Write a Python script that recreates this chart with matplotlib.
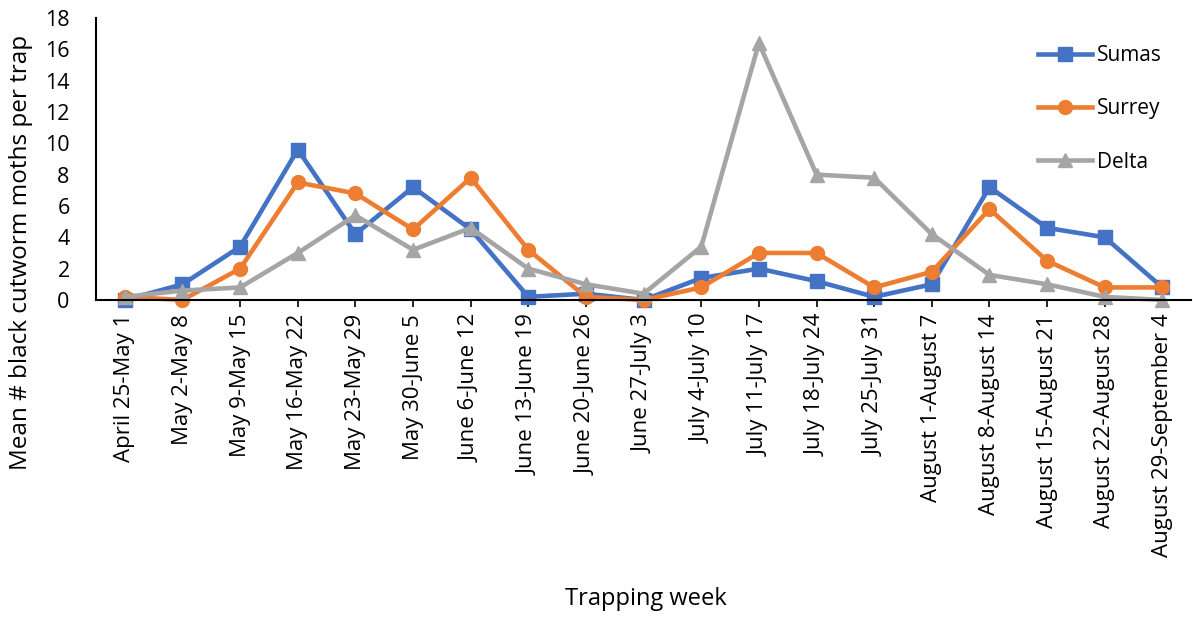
import numpy as np
import matplotlib.pyplot as plt

plt.rcParams['font.family'] = ['Open Sans', 'DejaVu Sans']

# Weekly trapping periods
weeks = ["April 25-May 1", "May 2-May 8", "May 9-May 15", "May 16-May 22",
         "May 23-May 29", "May 30-June 5", "June 6-June 12", "June 13-June 19",
         "June 20-June 26", "June 27-July 3", "July 4-July 10", "July 11-July 17",
         "July 18-July 24", "July 25-July 31", "August 1-August 7",
         "August 8-August 14", "August 15-August 21", "August 22-August 28",
         "August 29-September 4"]

# Mean moths per trap at each site
sumas = [0.0, 1.0, 3.4, 9.6, 4.2, 7.2, 4.5, 0.2, 0.4, 0.0,
         1.4, 2.0, 1.2, 0.2, 1.0, 7.2, 4.6, 4.0, 0.8]
surrey = [0.2, 0.0, 2.0, 7.5, 6.8, 4.5, 7.8, 3.2, 0.2, 0.0,
          0.8, 3.0, 3.0, 0.8, 1.8, 5.8, 2.5, 0.8, 0.8]
delta = [0.2, 0.6, 0.8, 3.0, 5.4, 3.2, 4.6, 2.0, 1.0, 0.4,
         3.4, 16.4, 8.0, 7.8, 4.2, 1.6, 1.0, 0.2, 0.0]

x = np.arange(len(weeks))

fig = plt.figure(figsize=(11.93, 6.18), dpi=100)
ax = fig.add_axes([0.0805, 0.5146, 0.918, 0.4564])

ax.plot(x, sumas, color='#4472C4', lw=3.3, marker='s', ms=10, label='Sumas', clip_on=False)
ax.plot(x, surrey, color='#ED7D31', lw=3.3, marker='o', ms=10, label='Surrey', clip_on=False)
ax.plot(x, delta, color='#A5A5A5', lw=3.3, marker='^', ms=10, label='Delta', clip_on=False)

ax.set_xlim(-0.5, len(weeks) - 0.5)
ax.set_ylim(0, 18)
ax.set_yticks(np.arange(0, 19, 2))
ax.set_xticks(x)
ax.set_xticklabels(weeks, rotation=90, fontsize=16)
ax.tick_params(axis='y', length=0, labelsize=15.5, pad=19)
ax.tick_params(axis='x', length=5, width=1.2, direction='out', pad=5)

for side in ['top', 'right']:
    ax.spines[side].set_visible(False)
for side in ['left', 'bottom']:
    ax.spines[side].set_linewidth(1.5)

fig.text(0.018, 0.592, "Mean # black cutworm moths per trap", fontsize=17.5,
         rotation=90, ha='center', va='center')
fig.text(0.541, 0.03, "Trapping week", fontsize=17, ha='center', va='center')

ax.legend(loc='upper right', bbox_to_anchor=(0.99, 0.97), frameon=False,
          fontsize=15, handlelength=2.6, labelspacing=1.55, handletextpad=0.2)

fig.savefig('out.png', dpi=100)
